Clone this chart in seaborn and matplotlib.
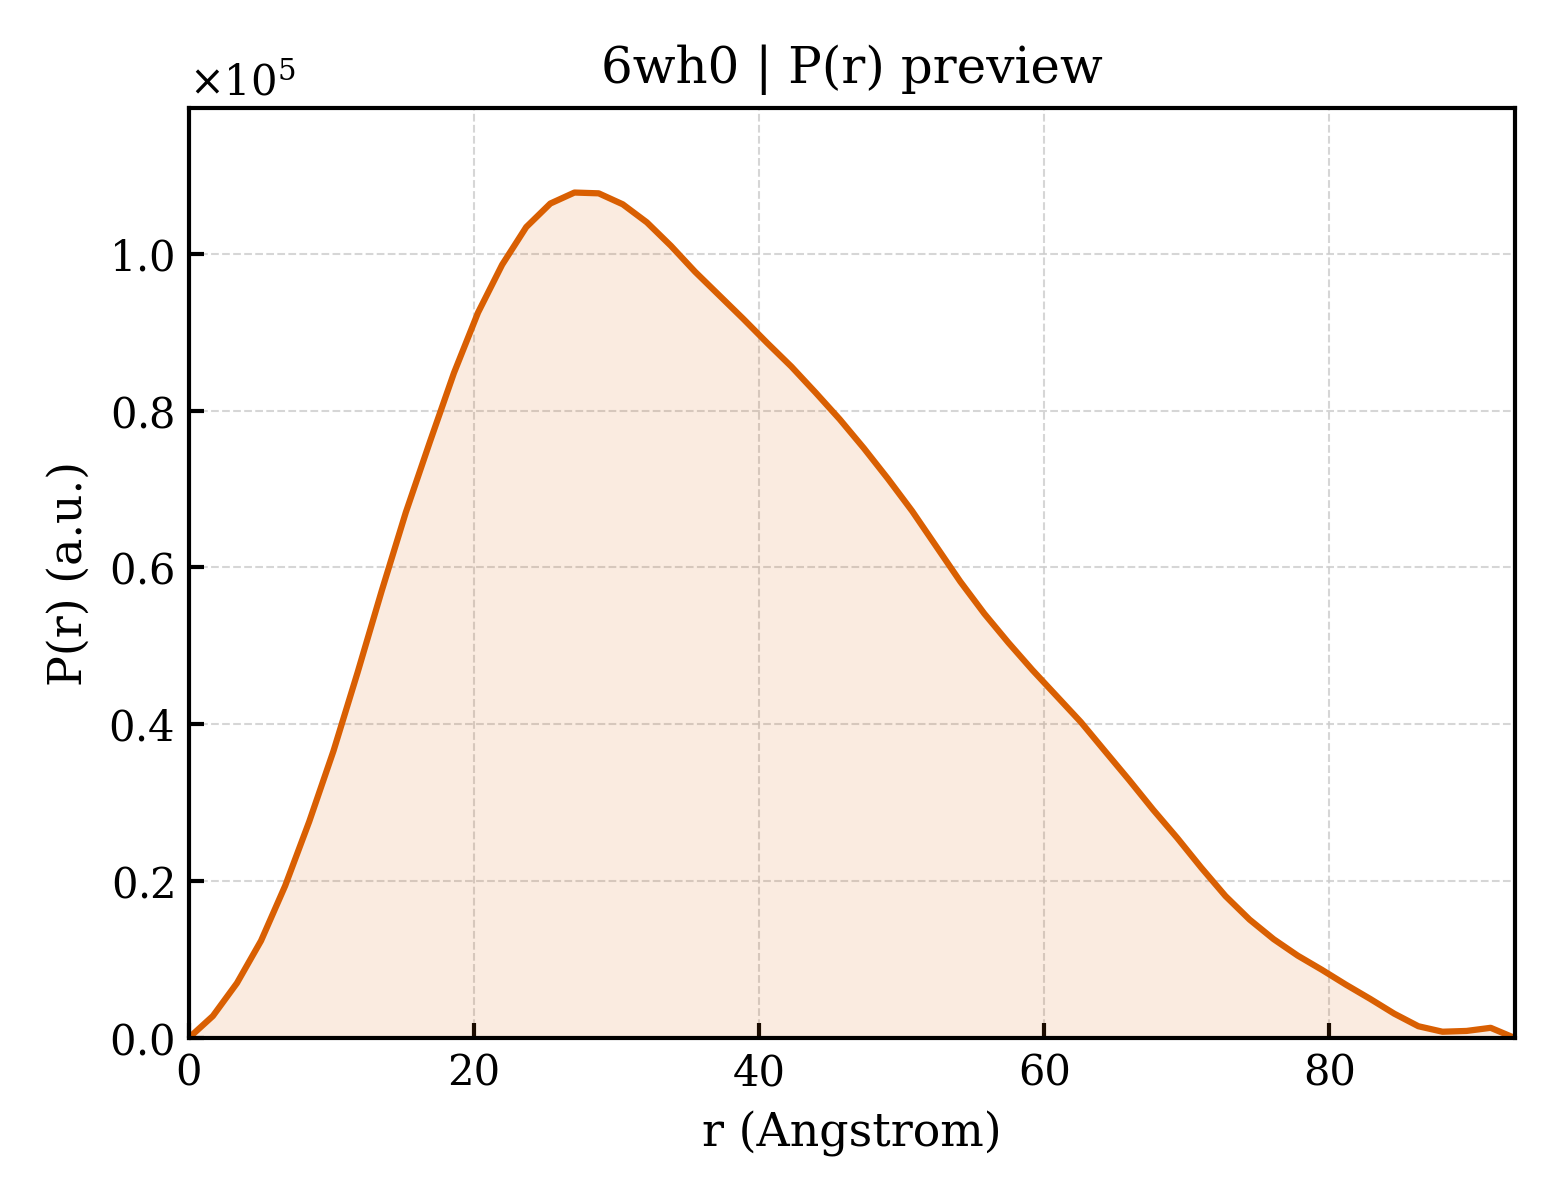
import numpy as np
import pandas as pd
import matplotlib
matplotlib.use('Agg')
import matplotlib.pyplot as plt
import seaborn as sns

r_vals = [0.0, 1.69, 3.38, 5.07, 6.76, 8.45, 10.15, 11.84, 13.53, 15.22,
          16.91, 18.60, 20.29, 21.98, 23.67, 25.36, 27.05, 28.75, 30.44, 32.13,
          33.82, 35.51, 37.20, 38.89, 40.58, 42.27, 43.96, 45.65, 47.35, 49.04,
          50.73, 52.42, 54.11, 55.80, 57.49, 59.18, 60.87, 62.56, 64.25, 65.95,
          67.64, 69.33, 71.02, 72.71, 74.40, 76.09, 77.78, 79.47, 81.16, 82.85,
          84.55, 86.24, 87.93, 89.62, 91.31, 93.0]
pr_scaled = [0.0, 0.028, 0.070, 0.124, 0.194, 0.276, 0.366, 0.466, 0.570, 0.670,
             0.760, 0.848, 0.925, 0.986, 1.034, 1.064, 1.078, 1.077, 1.063, 1.040,
             1.010, 0.977, 0.947, 0.917, 0.886, 0.856, 0.823, 0.789, 0.752, 0.713,
             0.672, 0.627, 0.582, 0.541, 0.504, 0.469, 0.436, 0.403, 0.366, 0.329,
             0.291, 0.255, 0.217, 0.181, 0.151, 0.126, 0.105, 0.087, 0.068, 0.050,
             0.031, 0.015, 0.008, 0.009, 0.013, 0.0]

df = pd.DataFrame({'r': r_vals, 'pr': np.array(pr_scaled) * 1e5})

sns.set_theme(style='ticks')
plt.rcParams['font.family'] = ['DejaVu Serif']
plt.rcParams['mathtext.fontset'] = 'dejavuserif'
#seaborn greys the text, the preview has plain black
for key in ['text.color', 'axes.labelcolor', 'xtick.color', 'ytick.color', 'axes.edgecolor']:
    plt.rcParams[key] = 'black'

line_color = '#D95F02'

fig, ax = plt.subplots(figsize=(5.2, 4), dpi=300)
fig.subplots_adjust(left=0.121, right=0.971, top=0.91, bottom=0.135)

sns.lineplot(data=df, x='r', y='pr', ax=ax, color=line_color, linewidth=1.5)
ax.fill_between(df['r'], df['pr'], 0, color=line_color, alpha=0.12, linewidth=0)

ax.set_xlim(0, df['r'].max())
ax.set_ylim(0, df['pr'].max() * 1.1)

ax.set_title('6wh0 | P(r) preview', fontsize=12)
ax.set_xlabel('r (Angstrom)', fontsize=11)
ax.set_ylabel('P(r) (a.u.)', fontsize=11)

#scientific offset label on the y axis
ax.ticklabel_format(axis='y', style='sci', scilimits=(0, 0), useMathText=True)
ax.yaxis.get_offset_text().set_fontsize(10)

ax.tick_params(direction='in', labelsize=10, length=3.5, width=1.0,
               top=False, right=False, colors='black')
for sp in ax.spines.values():
    sp.set_visible(True)
    sp.set_linewidth(1.0)
    sp.set_color('black')

ax.grid(True, linestyle='--', linewidth=0.5, color='#cccccc', alpha=0.8)

fig.savefig('out.png', dpi=300)
